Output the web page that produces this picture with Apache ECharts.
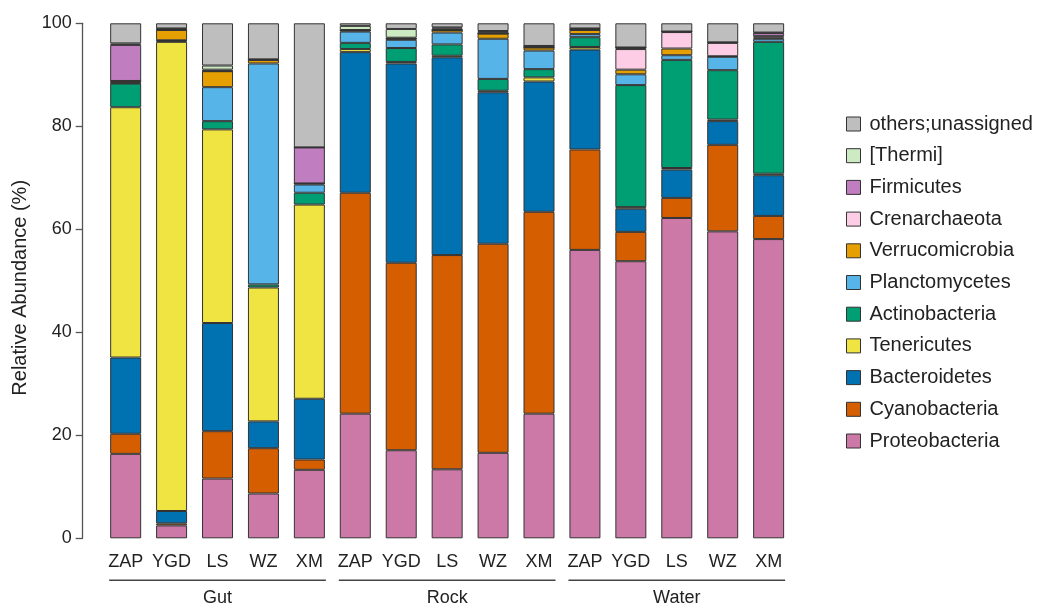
<!DOCTYPE html>
<html>
<head>
<meta charset="utf-8">
<script src="https://cdn.jsdelivr.net/npm/echarts@6/dist/echarts.min.js"></script>
<style>
html,body{margin:0;padding:0;background:#fff;}
#chart{width:1038px;height:608px;}
</style>
</head>
<body>
<div id="chart"></div>
<script>
// Samples (x categories) and their habitat groups
var samples = ['ZAP','YGD','LS','WZ','XM','ZAP','YGD','LS','WZ','XM','ZAP','YGD','LS','WZ','XM'];
var groups = ['Gut','Rock','Water'];
var yTicks = [0, 20, 40, 60, 80, 100];

// Relative abundance (%) per phylum, bottom to top of the stack
var proteobacteria  = [16.4, 2.5, 11.6, 8.7, 13.3, 24.2, 17.1, 13.4, 16.6, 24.2, 56.0, 53.8, 62.2, 59.6, 58.1];
var cyanobacteria   = [3.9, 0.4, 9.2, 8.8, 2.0, 42.9, 36.4, 41.6, 40.6, 39.2, 19.5, 5.7, 3.9, 16.8, 4.5];
var bacteroidetes   = [14.8, 2.4, 21.0, 5.2, 11.8, 27.3, 38.7, 38.4, 29.4, 25.3, 19.4, 4.5, 5.5, 4.6, 7.9];
var tenericutes     = [48.6, 91.1, 37.6, 26.0, 37.7, 0.6, 0.3, 0.3, 0.3, 0.8, 0.5, 0.3, 0.3, 0.3, 0.3];
var actinobacteria  = [4.6, 0.2, 1.6, 0.6, 2.3, 1.2, 2.7, 2.2, 2.3, 1.6, 1.9, 23.7, 21.0, 9.6, 25.6];
var planctomycetes  = [0.1, 0.1, 6.6, 42.9, 1.6, 2.2, 1.6, 2.3, 7.8, 3.6, 0.6, 2.1, 0.9, 2.6, 0.6];
var verrucomicrobia = [0.4, 2.0, 3.1, 0.7, 0.2, 0.2, 0.2, 0.5, 1.0, 0.6, 0.8, 0.9, 1.3, 0.1, 0.2];
var crenarchaeota   = [0, 0, 0, 0, 0, 0, 0, 0, 0, 0, 0.1, 4.0, 3.2, 2.6, 0.3];
var firmicutes      = [7.0, 0.2, 0.3, 0.1, 7.0, 0.1, 0.2, 0.3, 0.1, 0.3, 0.1, 0.3, 0.1, 0.1, 0.6];
var thermi          = [0.3, 0.1, 0.8, 0, 0, 0.8, 1.7, 0.2, 0.4, 0, 0.1, 0, 0, 0, 0.1];
var others          = [3.9, 1.0, 8.2, 7.0, 24.1, 0.5, 1.1, 0.8, 1.5, 4.4, 1.0, 4.7, 1.6, 3.7, 1.8];

var phylumNames = ['Proteobacteria','Cyanobacteria','Bacteroidetes','Tenericutes','Actinobacteria',
  'Planctomycetes','Verrucomicrobia','Crenarchaeota','Firmicutes','[Thermi]','others;unassigned'];
var phylumValues = [proteobacteria, cyanobacteria, bacteroidetes, tenericutes, actinobacteria,
  planctomycetes, verrucomicrobia, crenarchaeota, firmicutes, thermi, others];
var phylumColors = ['#CC79A7','#D55E00','#0072B2','#F0E442','#009E73',
  '#56B4E9','#E69F00','#FCCDE5','#C07EC0','#CDEBC3','#BEBEBE'];

var FONT = "'Liberation Sans', Arial, Helvetica, sans-serif";
var BORDER = '#333333';
var BAR_W = 31;

var chart = echarts.init(document.getElementById('chart'), null, {renderer: 'canvas'});

var series = phylumNames.map(function (name, i) {
  return {
    name: name,
    type: 'bar',
    stack: 'total',
    xAxisIndex: 0,
    barWidth: BAR_W,
    data: phylumValues[i],
    itemStyle: {color: phylumColors[i], borderColor: BORDER, borderWidth: 1},
    emphasis: {disabled: true},
    animation: false
  };
});

var option = {
  animation: false,
  backgroundColor: '#ffffff',
  grid: {left: 102.7, right: 246.4, top: 23.3, bottom: 69.7, containLabel: false},
  legend: {
    orient: 'vertical',
    left: 841,
    top: 109,
    itemWidth: 14,
    itemHeight: 14,
    itemGap: 11.7,
    icon: 'rect',
    selectedMode: false,
    data: phylumNames.slice().reverse(),
    itemStyle: {borderColor: BORDER, borderWidth: 1},
    textStyle: {fontFamily: FONT, fontSize: 20, color: '#222', lineHeight: 20, padding: [0, 0, 0, 4]}
  },
  xAxis: [
    {
      type: 'category',
      data: samples,
      position: 'bottom',
      axisLine: {show: false},
      axisTick: {show: false},
      axisLabel: {fontFamily: FONT, fontSize: 18, color: '#222', margin: 15, interval: 0}
    },
    {
      type: 'category',
      data: groups,
      position: 'bottom',
      axisLine: {show: false},
      axisTick: {show: false},
      axisLabel: {fontFamily: FONT, fontSize: 18, color: '#222', margin: 51, interval: 0}
    }
  ],
  yAxis: {
    type: 'value',
    min: yTicks[0],
    max: yTicks[yTicks.length - 1],
    interval: 20,
    offset: 20,
    name: 'Relative Abundance (%)',
    nameLocation: 'middle',
    nameGap: 50,
    nameTextStyle: {fontFamily: FONT, fontSize: 20, color: '#222', padding: [0, 14, 0, 0]},
    axisLine: {show: true, lineStyle: {color: '#555', width: 1.3}},
    axisTick: {show: true, length: 7, lineStyle: {color: '#555', width: 1.3}},
    axisLabel: {fontFamily: FONT, fontSize: 18, color: '#222', margin: 11},
    splitLine: {show: false}
  },
  series: series
};

chart.setOption(option);

// Group underlines, positioned from the category scale
function groupLines() {
  var els = [];
  var perGroup = samples.length / groups.length;
  for (var g = 0; g < groups.length; g++) {
    var first = chart.convertToPixel({xAxisIndex: 0}, g * perGroup);
    var last = chart.convertToPixel({xAxisIndex: 0}, g * perGroup + perGroup - 1);
    var y = chart.convertToPixel({yAxisIndex: 0}, 0) + 42;
    els.push({
      type: 'line',
      shape: {x1: first - BAR_W / 2 - 1, y1: y, x2: last + BAR_W / 2 + 1, y2: y},
      style: {stroke: '#444', lineWidth: 1.5},
      silent: true
    });
  }
  return els;
}
chart.setOption({graphic: groupLines()});
</script>
</body>
</html>
